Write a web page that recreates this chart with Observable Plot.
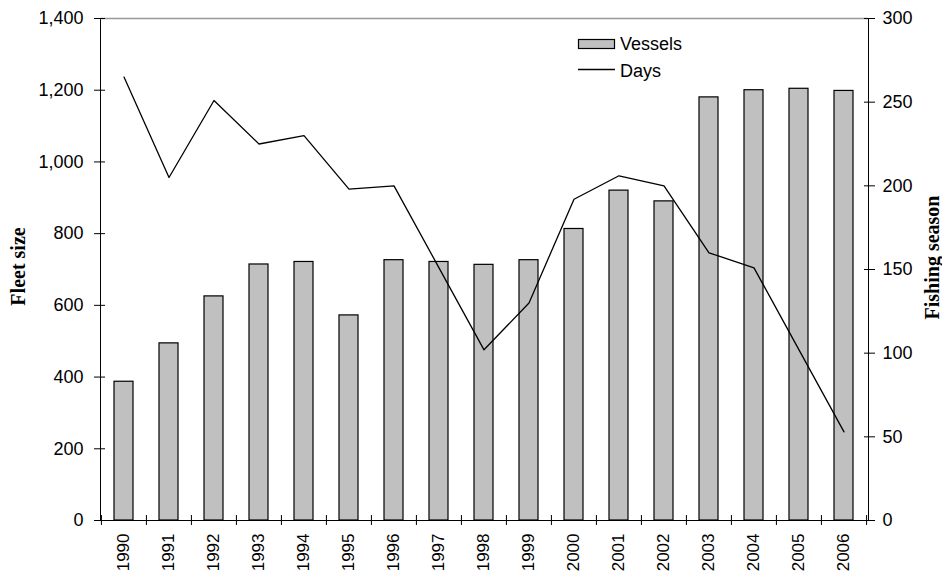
<!DOCTYPE html>
<html><head><meta charset="utf-8">
<script src="https://cdn.jsdelivr.net/npm/d3@7"></script>
<script src="https://cdn.jsdelivr.net/npm/@observablehq/plot@0.6"></script>
<style>body{margin:0;background:#fff}#chart{width:942px;height:574px}</style>
</head><body><div id="chart"></div>
<script>
const years = ["1990","1991","1992","1993","1994","1995","1996","1997","1998","1999","2000","2001","2002","2003","2004","2005","2006"];
const vessels = [387, 494, 625, 714, 721, 572, 726, 721, 713, 726, 813, 920, 890, 1180, 1200, 1204, 1198];
const days = [265, 205, 251, 225, 230, 198, 200, 151, 102, 130, 192, 206, 200, 160, 151, 102, 53];
const leftTicks = [0, 200, 400, 600, 800, 1000, 1200, 1400];
const rightTicks = [0, 50, 100, 150, 200, 250, 300];
const seriesNames = ["Vessels", "Days"];
const axisTitles = ["Fleet size", "Fishing season"];

const K = 1400 / 300;
const data = years.map((year, i) => ({year, vessels: vessels[i], days: days[i]}));
const W = 942, H = 574, mL = 100, mR = 74, mT = 18, mB = 54;
const step = (W - mL - mR) / years.length;
const sans = "'Liberation Sans', Arial, sans-serif";
const serif = "'Liberation Serif', 'Times New Roman', serif";

const chart = Plot.plot({
  width: W, height: H,
  marginLeft: mL, marginRight: mR, marginTop: mT, marginBottom: mB,
  style: {fontFamily: sans, fontSize: "18px", color: "black", background: "white"},
  x: {type: "band", domain: years, paddingInner: 0.57, paddingOuter: 0.285},
  y: {domain: [0, 1400]},
  marks: [
    Plot.barY(data, {x: "year", y: "vessels", fill: "#c0c0c0", stroke: "black", strokeWidth: 1.2}),
    Plot.line(data, {x: "year", y: d => d.days * K, stroke: "black", strokeWidth: 1.3}),
    Plot.frame({stroke: "black"}),
    Plot.ruleY([1400], {stroke: "#999", strokeWidth: 1.5}),
    Plot.axisY({anchor: "left", ticks: leftTicks, tickFormat: d3.format(","), tickSize: 11, tickPadding: 11, dx: 5, label: null}),
    Plot.axisY({anchor: "right", ticks: rightTicks.map(d => d * K), tickFormat: d => Math.round(d / K), tickSize: 11, tickPadding: 8, dx: -5, label: null}),
    Plot.axisX({ticks: years, tickSize: 0, tickPadding: 13, tickRotate: -90, fontSize: 17, label: null}),
    Plot.ruleX(years, {x: d => d, y1: 0, y2: 0, insetTop: -5, insetBottom: -5, dx: -step / 2, stroke: "black"}),
    Plot.ruleX(years.slice(-1), {x: d => d, y1: 0, y2: 0, insetTop: -5, insetBottom: -5, dx: step / 2, stroke: "black"}),
    Plot.text([axisTitles[0]], {text: d => d, frameAnchor: "left", dx: -76, dy: -3, rotate: -90, textAnchor: "middle", lineAnchor: "bottom", fontFamily: serif, fontWeight: "bold", fontSize: 20}),
    Plot.text([axisTitles[1]], {text: d => d, frameAnchor: "right", dx: 70, dy: -12, rotate: -90, textAnchor: "middle", lineAnchor: "bottom", fontFamily: serif, fontWeight: "bold", fontSize: 20})
  ]
});
document.getElementById("chart").appendChild(chart);

// legend
const svg = d3.select(chart);
const lg = svg.append("g").attr("font-family", sans).attr("font-size", 18).attr("text-anchor", "start").attr("fill", "black");
lg.append("rect").attr("x", 578.5).attr("y", 39.5).attr("width", 36).attr("height", 9)
  .attr("fill", "#c0c0c0").attr("stroke", "black").attr("stroke-width", 1.2);
lg.append("text").attr("x", 620).attr("y", 50).text(seriesNames[0]);
lg.append("line").attr("x1", 578).attr("x2", 615).attr("y1", 69.5).attr("y2", 69.5)
  .attr("stroke", "black").attr("stroke-width", 1.3);
lg.append("text").attr("x", 620).attr("y", 77).text(seriesNames[1]);
</script>
</body></html>
